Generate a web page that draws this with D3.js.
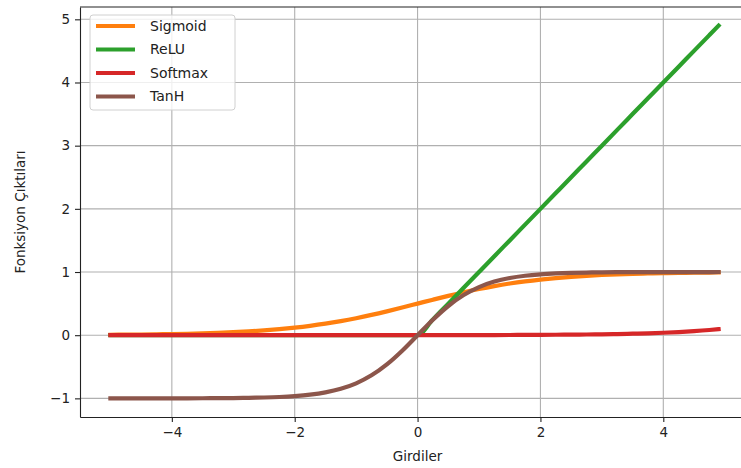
<!DOCTYPE html>
<html>
<head>
<meta charset="utf-8">
<script src="https://cdn.jsdelivr.net/npm/d3@7"></script>
<style>
  body { margin: 0; background: #fff; }
  svg { display: block; font-family: "DejaVu Sans", sans-serif; }
</style>
</head>
<body>
<div id="chart"></div>
<script>
// values
const xs = [-5, -4.75, -4.5, -4.25, -4, -3.75, -3.5, -3.25, -3, -2.75, -2.5, -2.25, -2, -1.75, -1.5, -1.25, -1, -0.75, -0.5, -0.25,
  0, 0.25, 0.5, 0.75, 1, 1.25, 1.5, 1.75, 2, 2.25, 2.5, 2.75, 3, 3.25, 3.5, 3.75, 4, 4.25, 4.5, 4.75, 4.9];

const sigmoidVals = [0.0067, 0.0086, 0.0110, 0.0141, 0.0180, 0.0230, 0.0293, 0.0373, 0.0474, 0.0601, 0.0759, 0.0953, 0.1192, 0.1480,
  0.1824, 0.2227, 0.2689, 0.3208, 0.3775, 0.4378, 0.5, 0.5622, 0.6225, 0.6792, 0.7311, 0.7773, 0.8176, 0.8520, 0.8808, 0.9047,
  0.9241, 0.9399, 0.9526, 0.9627, 0.9707, 0.9770, 0.9820, 0.9859, 0.9890, 0.9914, 0.9926];

const reluVals = [0, 0, 0, 0, 0, 0, 0, 0, 0, 0, 0, 0, 0, 0, 0, 0, 0, 0, 0, 0,
  0, 0.25, 0.5, 0.75, 1, 1.25, 1.5, 1.75, 2, 2.25, 2.5, 2.75, 3, 3.25, 3.5, 3.75, 4, 4.25, 4.5, 4.75, 4.9];

const softmaxVals = [0, 0, 0, 0, 0, 0, 0, 0, 0, 0.0001, 0.0001, 0.0001, 0.0001, 0.0001, 0.0002, 0.0002, 0.0003, 0.0003, 0.0004, 0.0006,
  0.0007, 0.0009, 0.0012, 0.0015, 0.0019, 0.0025, 0.0032, 0.0041, 0.0052, 0.0067, 0.0086, 0.0111, 0.0142, 0.0183, 0.0235, 0.0301,
  0.0387, 0.0497, 0.0638, 0.0819, 0.0952];

const tanhVals = [-0.9999, -0.9998, -0.9998, -0.9996, -0.9993, -0.9989, -0.9982, -0.9970, -0.9951, -0.9919, -0.9866, -0.9780, -0.9640,
  -0.9414, -0.9051, -0.8483, -0.7616, -0.6351, -0.4621, -0.2449, 0, 0.2449, 0.4621, 0.6351, 0.7616, 0.8483, 0.9051, 0.9414, 0.9640,
  0.9780, 0.9866, 0.9919, 0.9951, 0.9970, 0.9982, 0.9989, 0.9993, 0.9996, 0.9998, 0.9998, 0.9999];

const seriesNames = ["Sigmoid", "ReLU", "Softmax", "TanH"];
const seriesColors = ["#ff7f0e", "#2ca02c", "#d62728", "#8c564b"];
const xTicks = [-4, -2, 0, 2, 4];
const yTicks = [-1, 0, 1, 2, 3, 4, 5];

const series = [sigmoidVals, reluVals, softmaxVals, tanhVals].map((vals, i) => ({
  name: seriesNames[i],
  color: seriesColors[i],
  points: xs.map((x, j) => ({ x, y: vals[j] }))
}));

const totalW = 741, totalH = 468;
const margin = { top: 7, left: 80 };
const width = 669;   // right spine falls outside the window, like the source image
const height = 410;

const svg = d3.select("#chart").append("svg")
  .attr("width", totalW)
  .attr("height", totalH);

const g = svg.append("g").attr("transform", `translate(${margin.left},${margin.top})`);

const x = d3.scaleLinear().domain([-5.495, 5.395]).range([0, width]);
const y = d3.scaleLinear().domain([-1.295, 5.195]).range([height, 0]);

// grid
g.append("g").selectAll("line").data(xTicks).join("line")
  .attr("x1", d => x(d)).attr("x2", d => x(d))
  .attr("y1", 0).attr("y2", height)
  .attr("stroke", "#b0b0b0").attr("stroke-width", 1.1);
g.append("g").selectAll("line").data(yTicks).join("line")
  .attr("x1", 0).attr("x2", width)
  .attr("y1", d => y(d)).attr("y2", d => y(d))
  .attr("stroke", "#b0b0b0").attr("stroke-width", 1.1);

// lines
const line = d3.line()
  .x(d => x(d.x))
  .y(d => y(d.y))
  .curve(d3.curveMonotoneX);

g.append("g").selectAll("path").data(series).join("path")
  .attr("fill", "none")
  .attr("stroke", d => d.color)
  .attr("stroke-width", 4.2)
  .attr("stroke-linecap", "square")
  .attr("d", d => line(d.points));

// axes
const fmt = d3.format("d");
const xAxis = g.append("g")
  .attr("transform", `translate(0,${height})`)
  .call(d3.axisBottom(x).tickValues(xTicks).tickFormat(fmt).tickSize(5).tickPadding(5).tickSizeOuter(0));
const yAxis = g.append("g")
  .call(d3.axisLeft(y).tickValues(yTicks).tickFormat(fmt).tickSize(5).tickPadding(5).tickSizeOuter(0));

[xAxis, yAxis].forEach(a => {
  a.select(".domain").attr("stroke", "#222").attr("stroke-width", 1.1);
  a.selectAll(".tick line").attr("stroke", "#222").attr("stroke-width", 1.1);
  a.selectAll(".tick text")
    .attr("fill", "#222")
    .style("font-family", "DejaVu Sans, sans-serif")
    .style("font-size", "13.5px");
});

// top spine
g.append("line")
  .attr("x1", 0).attr("x2", width).attr("y1", 0).attr("y2", 0)
  .attr("stroke", "#222").attr("stroke-width", 1.1);

// axis labels
svg.append("text")
  .attr("x", margin.left + x(0))
  .attr("y", 461)
  .attr("text-anchor", "middle")
  .style("font-size", "13.5px")
  .attr("fill", "#222")
  .text("Girdiler");

svg.append("text")
  .attr("transform", `translate(25,${margin.top + height / 2}) rotate(-90)`)
  .attr("text-anchor", "middle")
  .style("font-size", "13.5px")
  .attr("fill", "#222")
  .text("Fonksiyon Çıktıları");

// legend
const legend = g.append("g").attr("transform", "translate(10,8)");
legend.append("rect")
  .attr("width", 145).attr("height", 95)
  .attr("rx", 3)
  .attr("fill", "#fff").attr("fill-opacity", 0.8)
  .attr("stroke", "#d0d0d0").attr("stroke-width", 1);

const items = legend.selectAll("g.item").data(series).join("g")
  .attr("class", "item")
  .attr("transform", (d, i) => `translate(0,${11 + i * 23.5})`);
items.append("line")
  .attr("x1", 6).attr("x2", 45)
  .attr("stroke", d => d.color).attr("stroke-width", 4.2);
items.append("text")
  .attr("x", 60).attr("dy", "0.35em")
  .style("font-size", "14px")
  .attr("fill", "#222")
  .text(d => d.name);
</script>
</body>
</html>
